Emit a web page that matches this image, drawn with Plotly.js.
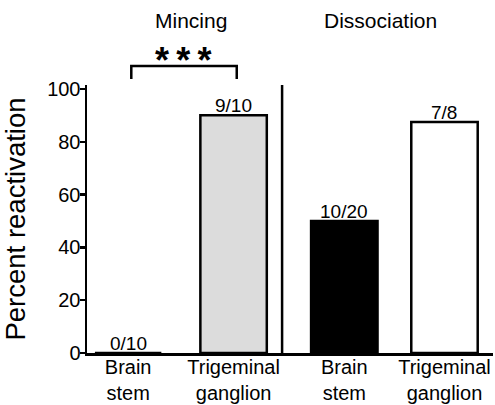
<!DOCTYPE html>
<html>
<head>
<meta charset="utf-8">
<script src="https://cdn.plot.ly/plotly-3.0.1.min.js"></script>
<style>html,body{margin:0;padding:0;background:#fff;}#chart{width:495px;height:405px;}</style>
</head>
<body>
<div id="chart"></div>
<script>
// ---- data ----
var groups = ["Mincing", "Dissociation"];
var tissues = ["Brain<br>stem", "Trigeminal<br>ganglion", "Brain<br>stem", "Trigeminal<br>ganglion"];
var percentReactivation = [0, 90, 50, 87.5];
var countLabels = ["0/10", "9/10", "10/20", "7/8"];
var barColors = ["#ffffff", "#dcdcdc", "#000000", "#ffffff"];
var significance = "*\u2009*\u2009*";

// ---- layout helpers ----
var xPos = [0, 1, 2.05, 3];
var xRange = [-0.39, 3.46];
var yRange = [0, 101.5];
function toPaperX(v) { return (v - xRange[0]) / (xRange[1] - xRange[0]); }

var font = "Liberation Sans, Arial, Helvetica, sans-serif";

var trace = {
  type: "bar",
  x: xPos,
  y: percentReactivation,
  width: 0.63,
  marker: { color: barColors, line: { color: "#000", width: 2.5 } },
  hoverinfo: "skip",
  showlegend: false
};

var annotations = [];
for (var i = 0; i < xPos.length; i++) {
  annotations.push({
    x: xPos[i], y: percentReactivation[i], xref: "x", yref: "y",
    text: countLabels[i], showarrow: false, yanchor: "bottom", yshift: -3,
    font: { family: font, size: 19, color: "#000" }
  });
}
annotations.push({
  x: 0.6, y: 1.2425, xref: "x", yref: "paper", yanchor: "middle", text: groups[0], showarrow: false,
  font: { family: font, size: 21, color: "#000" }
});
annotations.push({
  x: 2.39, y: 1.2425, xref: "x", yref: "paper", yanchor: "middle", text: groups[1], showarrow: false,
  font: { family: font, size: 21, color: "#000" }
});
annotations.push({
  x: (toPaperX(xPos[0]) + toPaperX(xPos[1])) / 2 + 0.005, y: 1.006, xref: "paper", yref: "paper",
  xanchor: "center", yanchor: "bottom", text: "<b>" + significance + "</b>", showarrow: false,
  font: { family: font, size: 36, color: "#000" }
});

var bx0 = toPaperX(xPos[0] + 0.03), bx1 = toPaperX(xPos[1] + 0.03);
var shapes = [
  { type: "path", xref: "paper", yref: "paper",
    path: "M " + bx0 + " 1.022 L " + bx0 + " 1.071 L " + bx1 + " 1.071 L " + bx1 + " 1.022",
    line: { color: "#000", width: 2.5 } },
  { type: "line", xref: "x", yref: "paper", x0: 1.46, x1: 1.46, y0: 0, y1: 1,
    line: { color: "#000", width: 2.5 } }
];

var layout = {
  width: 495, height: 405,
  margin: { l: 87, r: 2, t: 85, b: 52 },
  paper_bgcolor: "#fff", plot_bgcolor: "#fff",
  font: { family: font, color: "#000" },
  xaxis: {
    range: xRange, tickvals: xPos, ticktext: tissues,
    showline: true, linecolor: "#000", linewidth: 2.5,
    ticks: "", showgrid: false, zeroline: false, ticklabelstandoff: -6,
    tickfont: { family: font, size: 20, color: "#000" }, fixedrange: true
  },
  yaxis: {
    range: yRange, tickvals: [0, 20, 40, 60, 80, 100],
    showline: true, linecolor: "#000", linewidth: 2.5,
    ticks: "outside", ticklen: 5, tickwidth: 2.5, tickcolor: "#000",
    showgrid: false, zeroline: false, ticklabelstandoff: -5,
    tickfont: { family: font, size: 20, color: "#000" },
    title: { text: "Percent reactivation", font: { family: font, size: 27.5, color: "#000" } },
    fixedrange: true
  },
  annotations: annotations,
  shapes: shapes,
  bargap: 0
};

Plotly.newPlot("chart", [trace], layout, { displayModeBar: false, staticPlot: true });
</script>
</body>
</html>
